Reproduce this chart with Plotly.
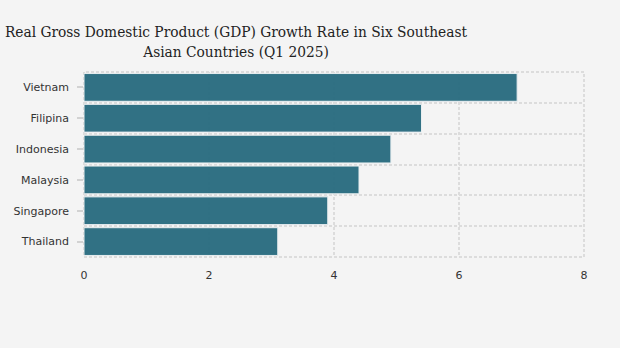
import plotly.graph_objects as go

countries = ["Vietnam", "Filipina", "Indonesia", "Malaysia", "Singapore", "Thailand"]
growth = [6.93, 5.4, 4.91, 4.4, 3.9, 3.1]
x_ticks = [0, 2, 4, 6, 8]

fig = go.Figure()
fig.add_trace(go.Bar(
    x=growth, y=countries, orientation="h",
    marker=dict(color="#2b6d81", opacity=0.97, line=dict(color="#e8eef0", width=1)),
    hoverinfo="x+y",
))
# invisible helper trace so the secondary axis can show centre tick marks
fig.add_trace(go.Scatter(
    x=[0] * len(countries), y=countries, yaxis="y2", mode="markers",
    marker=dict(opacity=0), hoverinfo="skip", showlegend=False,
))

grid = dict(color="#dcdcdc", width=2, dash="3px,2px")
cat_range = [-0.5, len(countries) - 0.5]

fig.update_layout(
    width=620, height=348,
    paper_bgcolor="#f4f4f4", plot_bgcolor="#f4f4f4",
    margin=dict(l=84, r=36, t=72, b=91),
    bargap=0.1,
    showlegend=False,
    title=dict(
        text="Real Gross Domestic Product (GDP) Growth Rate in Six Southeast<br>Asian Countries (Q1 2025)",
        x=236/620, xanchor="center", yref="container", y=1 - 37/348, yanchor="top",
        font=dict(family="DejaVu Serif Condensed, Liberation Serif, serif", size=15.3, color="#222"),
    ),
    xaxis=dict(
        range=[0, 8], tickvals=x_ticks, ticktext=[str(v) for v in x_ticks],
        showgrid=True, gridcolor=grid["color"], gridwidth=2, griddash=grid["dash"],
        zeroline=False, showline=False,
        ticks="outside", ticklen=8, tickcolor="rgba(0,0,0,0)",
        tickfont=dict(family="DejaVu Sans, Verdana, sans-serif", size=11, color="#333"),
    ),
    yaxis=dict(
        type="category", categoryorder="array", categoryarray=countries[::-1],
        autorange=False, range=cat_range,
        tickson="boundaries",
        showgrid=True, gridcolor=grid["color"], gridwidth=2, griddash=grid["dash"],
        zeroline=False, showline=False,
        ticks="", ticklabelstandoff=14,
        tickfont=dict(family="DejaVu Sans, Verdana, sans-serif", size=11, color="#333"),
    ),
    yaxis2=dict(
        overlaying="y", side="left", anchor="x",
        type="category", categoryorder="array", categoryarray=countries[::-1],
        autorange=False, range=cat_range,
        showticklabels=False, showgrid=False, zeroline=False, showline=False,
        ticks="outside", ticklen=6, tickcolor="#d2d2d2", tickwidth=2,
    ),
    shapes=[dict(
        type="rect", xref="paper", yref="paper", x0=0, x1=1, y0=0, y1=1,
        line=grid, fillcolor="rgba(0,0,0,0)", layer="below",
    )],
)

fig.write_html("out.html")
